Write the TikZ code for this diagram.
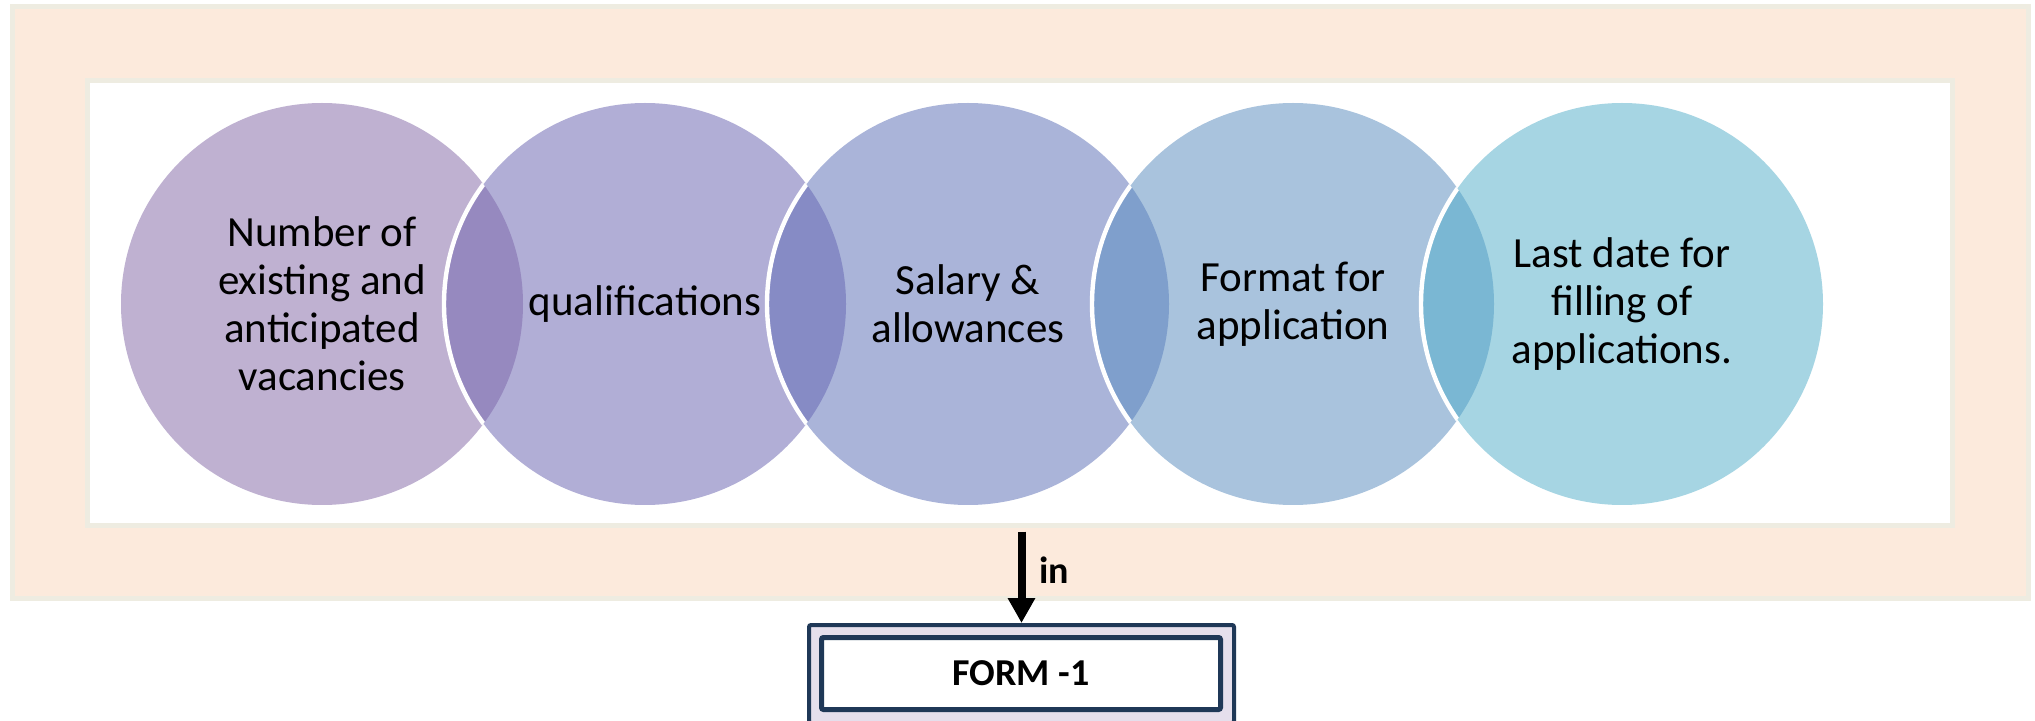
\documentclass[tikz,border=0pt]{standalone}
\usepackage{fontspec}
\setmainfont{Carlito}
\usetikzlibrary{arrows.meta}
\pgfdeclarelayer{front}
\pgfsetlayers{main,front}

\definecolor{peach}{HTML}{FCEADC}
\definecolor{tanline}{HTML}{EEECE1}
\definecolor{bubA}{HTML}{BFB1D1}
\definecolor{bubB}{HTML}{B1AED6}
\definecolor{bubC}{HTML}{AAB4D9}
\definecolor{bubD}{HTML}{A9C3DD}
\definecolor{bubE}{HTML}{A6D5E3}
\definecolor{lensAB}{HTML}{9689BF}
\definecolor{lensBC}{HTML}{868BC5}
\definecolor{lensCD}{HTML}{7F9FCC}
\definecolor{lensDE}{HTML}{7AB7D3}
\definecolor{navy}{HTML}{1F3857}
\definecolor{lilac}{HTML}{E5DFEC}

\begin{document}
\begin{tikzpicture}[x=0.5pt,y=-0.5pt,
  outerframe/.style={rectangle, draw=tanline, fill=peach, line width=2.5pt,
    minimum width=1008pt, minimum height=296pt, inner sep=0pt},
  panelbox/.style={rectangle, draw=tanline, fill=white, line width=2.5pt,
    minimum width=932.5pt, minimum height=222pt, inner sep=0pt},
  bubble/.style={circle, minimum size=201pt, inner sep=0pt, align=center,
    font=\fontsize{21.5}{24}\selectfont},
  lensring/.style={white, line width=2.2pt},
  flowarrow/.style={line width=4pt, -{Triangle[width=13pt,length=12.5pt]}},
  formouter/.style={rectangle, draw=navy, fill=lilac, line width=2pt,
    rounded corners=1pt, minimum width=212.5pt, minimum height=49pt, inner sep=0pt},
  forminner/.style={rectangle, draw=navy, fill=white, line width=2.5pt,
    rounded corners=1pt, minimum width=199.5pt, minimum height=36pt, inner sep=0pt,
    font=\bfseries\fontsize{19}{22}\selectfont},
  arrowlabel/.style={font=\bfseries\fontsize{19}{22}\selectfont, inner sep=0pt}
]
\useasboundingbox (0,0) rectangle (2035,721);
\clip (0,0) rectangle (2035,721);

% background frame and white panel
\node[outerframe] (frame) at (1020.5,302.5) {};
\node[panelbox] (panel) at (1019.5,303) {};

% bubble texts (kept above the fills)
\begin{pgfonlayer}{front}
\node[bubble] (b1) at (322,304) {Number of\\existing and\\anticipated\\vacancies};
\node[bubble] (b2) at (645,304) {qualifications};
\node[bubble] (b3) at (968,304) {Salary \&\\allowances};
\node[bubble] (b4) at (1293,304) {Format for\\application};
\node[bubble] (b5) at (1622,304) {Last date for\\filling of\\applications.};
\end{pgfonlayer}

% bubble fills
\fill[bubA] (b1.center) circle[radius=201];
\fill[bubB] (b2.center) circle[radius=201];
\fill[bubC] (b3.center) circle[radius=201];
\fill[bubD] (b4.center) circle[radius=201];
\fill[bubE] (b5.center) circle[radius=201];

% overlapping lenses with the white rim of the right-hand bubble
\foreach \l/\r/\c in {b1/b2/lensAB, b2/b3/lensBC, b3/b4/lensCD, b4/b5/lensDE}{
  \begin{scope}
    \clip (\l.center) circle[radius=201];
    \fill[\c] (\r.center) circle[radius=201];
    \draw[lensring] (\r.center) circle[radius=201];
  \end{scope}
}

% result box
\node[formouter] (form) at (1021.5,674) {};
\node[forminner] (formtext) at (1021,673.5) {FORM -1};

% connector
\draw[flowarrow] ([yshift=-2pt]panel.south -| form.north) -- (form.north)
  node[pos=0.42, right=7pt, arrowlabel] {in};
\end{tikzpicture}
\end{document}
